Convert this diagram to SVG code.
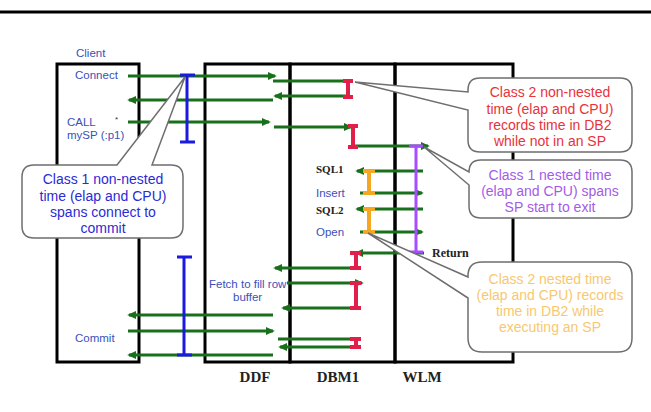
<svg xmlns="http://www.w3.org/2000/svg" width="651" height="412" viewBox="0 0 651 412">
<style>
.frame{fill:none;stroke:#000;stroke-width:3}
.g{stroke:#19701b;stroke-width:3;fill:none}
.ga{stroke:#19701b;stroke-width:3;fill:none;marker-end:url(#ah)}
.lbl{font-family:"Liberation Sans",Arial,sans-serif;font-size:11.5px;fill:#3a50b8}
.ser{font-family:"Liberation Serif","Times New Roman",serif;font-weight:bold;fill:#222}
.bar{fill:none;stroke-width:3}
.blue{stroke:#1a1ae0}
.red{stroke:#e0204a;stroke-width:4}
.org{stroke:#f5a623;stroke-width:4}
.pur{stroke:#a64dff}
.co{fill:#fff;stroke:#6e6e6e;stroke-width:1.5}
.ct{font-family:"Liberation Sans",Arial,sans-serif;font-size:14px;text-anchor:middle}
</style>
<defs>
<marker id="ah" viewBox="0 0 10 10" refX="8" refY="5" markerWidth="9" markerHeight="9" markerUnits="userSpaceOnUse" orient="auto"><path d="M0,0.5 L10,5 L0,9.5 z" fill="#19701b"/></marker>
</defs>
<rect width="651" height="412" fill="#fff"/>
<line x1="0" y1="12" x2="651" y2="12" stroke="#000" stroke-width="3"/>

<g id="client">
<rect class="frame" x="57" y="64" width="82" height="298"/>
<text class="lbl" x="76" y="57">Client</text>
<text class="lbl" x="75" y="79">Connect</text>
<text class="lbl" x="67" y="126">CALL</text>
<text class="lbl" x="67" y="139">mySP (:p1)</text>
<text class="lbl" x="115" y="122" style="font-size:8px;fill:#333">*</text>
<text class="lbl" x="75" y="342">Commit</text>
</g>

<g id="ddf">
<rect class="frame" x="205" y="64" width="85" height="298"/>
<text class="lbl" x="209" y="288">Fetch to fill row</text>
<text class="lbl" x="233" y="301">buffer</text>
<text class="ser" x="255" y="382" font-size="15" text-anchor="middle">DDF</text>
</g>

<g id="dbm1">
<rect class="frame" x="290" y="64" width="105" height="298"/>
<text class="ser" x="316" y="173" font-size="11">SQL1</text>
<text class="lbl" x="316" y="197">Insert</text>
<text class="ser" x="316" y="214" font-size="11">SQL2</text>
<text class="lbl" x="316" y="236">Open</text>
<text class="ser" x="338" y="382" font-size="15" text-anchor="middle">DBM1</text>
</g>

<g id="wlm">
<rect class="frame" x="395" y="64" width="118" height="298"/>
<text class="ser" x="432" y="257" font-size="12">Return</text>
<text class="ser" x="422" y="382" font-size="15" text-anchor="middle">WLM</text>
</g>

<g id="connectors">
<line class="ga" x1="128" y1="76" x2="275" y2="76"/>
<line class="ga" x1="273" y1="100" x2="129" y2="100"/>
<line class="ga" x1="128" y1="122" x2="269" y2="122"/>
<line class="g" x1="273" y1="81" x2="347" y2="81"/>
<line class="ga" x1="347" y1="96" x2="275" y2="96"/>
<line class="ga" x1="274" y1="127" x2="351" y2="127"/>
<line class="ga" x1="353" y1="146" x2="428" y2="146"/>
<line class="ga" x1="423" y1="171" x2="357" y2="171"/>
<line class="ga" x1="360" y1="193" x2="422" y2="193"/>
<line class="ga" x1="423" y1="209" x2="357" y2="209"/>
<line class="ga" x1="360" y1="232" x2="422" y2="232"/>
<line class="ga" x1="424" y1="253" x2="356" y2="253"/>
<line class="ga" x1="356" y1="268" x2="275" y2="268"/>
<line class="ga" x1="287" y1="283" x2="362" y2="283"/>
<line class="ga" x1="356" y1="308" x2="283" y2="308"/>
<line class="ga" x1="273" y1="315" x2="129" y2="315"/>
<line class="ga" x1="128" y1="331" x2="273" y2="331"/>
<line class="ga" x1="273" y1="355" x2="129" y2="355"/>
<line class="g" x1="278" y1="339" x2="356" y2="339"/>
<line class="ga" x1="356" y1="347" x2="280" y2="347"/>

<path class="bar blue" d="M187,75V142M180,75H195M180,142H195"/>
<path class="bar blue" d="M184,257V355M177,257H192M177,355H192"/>
<path class="bar red" d="M348,81V97M343,81H353M343,97H353"/>
<path class="bar red" d="M353,126V147M348,126H358M348,147H358"/>
<path class="bar red" d="M356,253V268M350,253H361M350,268H361"/>
<path class="bar red" d="M356,283V308M350,283H361M350,308H361"/>
<path class="bar red" d="M356,339V347M350,339H361M350,347H361"/>
<path class="bar org" d="M369,171V193M363,171H375M363,193H375"/>
<path class="bar org" d="M369,209V232M363,209H375M363,232H375"/>
<path class="bar pur" d="M416,146V252M409,146H423M409,252H423"/>
</g>

<g id="callout-class1-nonnested">
<path class="co" d="M34,165 H117 L185,77 L152,165 H171 Q183,165 183,177 V226 Q183,238 171,238 H34 Q22,238 22,226 V177 Q22,165 34,165 Z"/>
<text class="ct" fill="#2b2bd6"><tspan x="103" y="184">Class 1 non-nested</tspan><tspan x="103" y="201">time (elap and CPU)</tspan><tspan x="103" y="217">spans connect to</tspan><tspan x="103" y="233">commit</tspan></text>
</g>

<g id="callout-class2-nonnested">
<path class="co" d="M480,78 H620 Q632,78 632,90 V140 Q632,152 620,152 H480 Q468,152 468,140 V110 L355,82 L468,92 V90 Q468,78 480,78 Z"/>
<text class="ct" fill="#e8323c"><tspan x="550" y="97">Class 2 non-nested</tspan><tspan x="550" y="114">time (elap and CPU)</tspan><tspan x="550" y="130">records time in DB2</tspan><tspan x="550" y="146">while not in an SP</tspan></text>
</g>

<g id="callout-class1-nested">
<path class="co" d="M481,160 H620 Q632,160 632,172 V206 Q632,218 620,218 H481 Q469,218 469,206 V185 L424,147 L469,172 Q469,160 481,160 Z"/>
<text class="ct" fill="#a35ce6"><tspan x="550" y="180">Class 1 nested time</tspan><tspan x="550" y="196">(elap and CPU) spans</tspan><tspan x="550" y="212">SP start to exit</tspan></text>
</g>

<g id="callout-class2-nested">
<path class="co" d="M482,262 H618 Q632,262 632,276 V338 Q632,352 618,352 H482 Q468,352 468,338 V298 L368,233 L468,277 V276 Q468,262 482,262 Z"/>
<text class="ct" fill="#f8c870"><tspan x="550" y="284">Class 2 nested time</tspan><tspan x="550" y="300">(elap and CPU) records</tspan><tspan x="550" y="316">time in DB2 while</tspan><tspan x="550" y="332">executing an SP</tspan></text>
</g>
</svg>
